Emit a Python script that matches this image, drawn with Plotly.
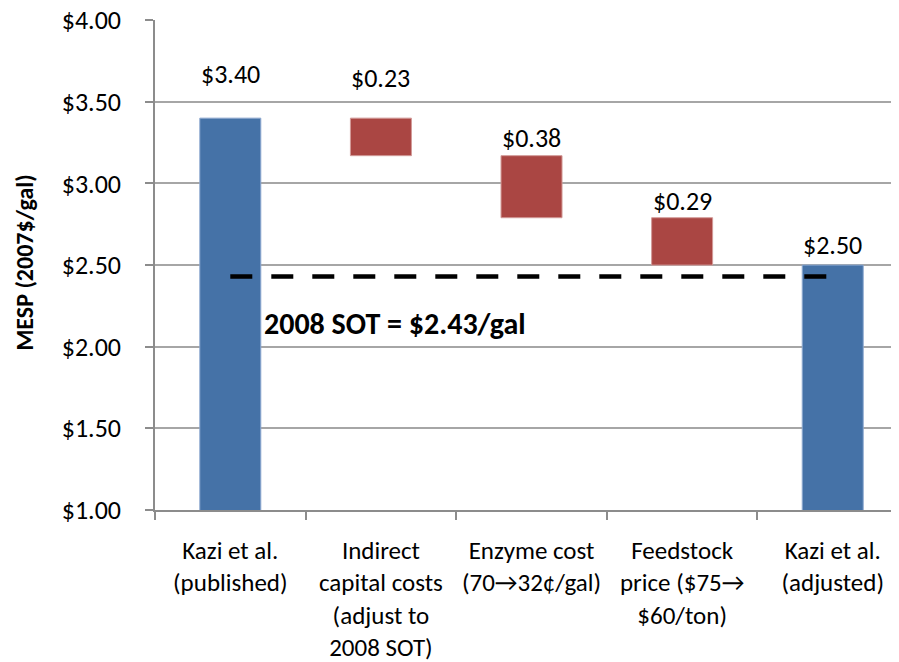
import plotly.graph_objects as go

categories = [
    "Kazi et al.<br>(published)",
    "Indirect<br>capital costs<br>(adjust to<br>2008 SOT)",
    "Enzyme cost<br>(70→32¢/gal)",
    "Feedstock<br>price ($75→<br>$60/ton)",
    "Kazi et al.<br>(adjusted)",
]
published_mesp = 3.40
reductions = [0.23, 0.38, 0.29]
adjusted_mesp = 2.50
sot_2008 = 2.43
y_ticks = [1.0, 1.5, 2.0, 2.5, 3.0, 3.5, 4.0]
y_tick_labels = ["$1.00", "$1.50", "$2.00", "$2.50", "$3.00", "$3.50", "$4.00"]

FONT = "Carlito, Calibri, Lato, sans-serif"
BLUE = "#4572A7"
RED = "#AA4643"
FS = 26

# waterfall bases
bases = []
top = published_mesp
for r in reductions:
    bases.append(top - r)
    top = top - r

fig = go.Figure()
fig.add_trace(go.Bar(
    x=[categories[0], categories[4]], y=[published_mesp, adjusted_mesp],
    marker=dict(color=BLUE, line=dict(color="#8EA9D0", width=1)),
    width=0.405, hoverinfo="skip"))
fig.add_trace(go.Bar(
    x=categories[1:4], y=reductions, base=bases,
    marker=dict(color=RED, line=dict(color="#D29A98", width=1)),
    width=0.405, hoverinfo="skip"))
fig.add_trace(go.Scatter(
    x=[categories[0], categories[4]], y=[sot_2008, sot_2008], mode="lines",
    line=dict(color="black", width=4.5, dash="22px,19px"), hoverinfo="skip"))

# value labels
label_vals = [published_mesp] + reductions + [adjusted_mesp]
label_tops = [published_mesp, published_mesp] + bases[:2] + [adjusted_mesp]
label_shift = [44, 40, 18, 17, 20]
for i, (v, t, s) in enumerate(zip(label_vals, label_tops, label_shift)):
    fig.add_annotation(x=i, y=t, text=f"${v:.2f}", showarrow=False,
                       yanchor="middle", yshift=s,
                       font=dict(family=FONT, size=FS, color="black"))

fig.add_annotation(x=0.21, y=2.145, text=f"<b>2008 SOT = ${sot_2008:.2f}/gal</b>",
                   showarrow=False, xanchor="left", yanchor="middle",
                   font=dict(family=FONT, size=30, color="black"))

fig.add_annotation(xref="paper", yref="paper", x=-0.176, y=0.505,
                   text="<b>MESP (2007$/gal)</b>", textangle=-90, showarrow=False,
                   xanchor="center", yanchor="middle",
                   font=dict(family=FONT, size=24, color="black"))

fig.update_layout(
    width=899, height=662,
    margin=dict(l=147, r=8, t=12, b=160),
    paper_bgcolor="white", plot_bgcolor="white",
    showlegend=False, barmode="overlay",
    font=dict(family=FONT, size=FS, color="black"),
    xaxis=dict(type="category", categoryorder="array", categoryarray=categories,
               range=[-0.5, 4.44], tickson="boundaries", tickangle=0, automargin=False,
               ticks="outside", ticklen=8, tickcolor="#8c8c8c", tickwidth=1.5,
               showline=True, linecolor="#8c8c8c", linewidth=1.5,
               showgrid=False, ticklabelstandoff=17, ticklabeloverflow="allow",
               tickfont=dict(family=FONT, size=25, color="black")),
    yaxis=dict(range=[1.0, 4.001], tickvals=y_ticks, ticktext=y_tick_labels,
               automargin=False, ticklabeloverflow="allow",
               ticks="outside", ticklen=8, tickcolor="#8c8c8c", tickwidth=1.5,
               showline=True, linecolor="#8c8c8c", linewidth=1.5,
               showgrid=True, gridcolor="#a6a6a6", gridwidth=1.5,
               zeroline=False, ticklabelstandoff=19,
               tickfont=dict(family=FONT, size=FS, color="black")),
)

fig.write_html("out.html")
